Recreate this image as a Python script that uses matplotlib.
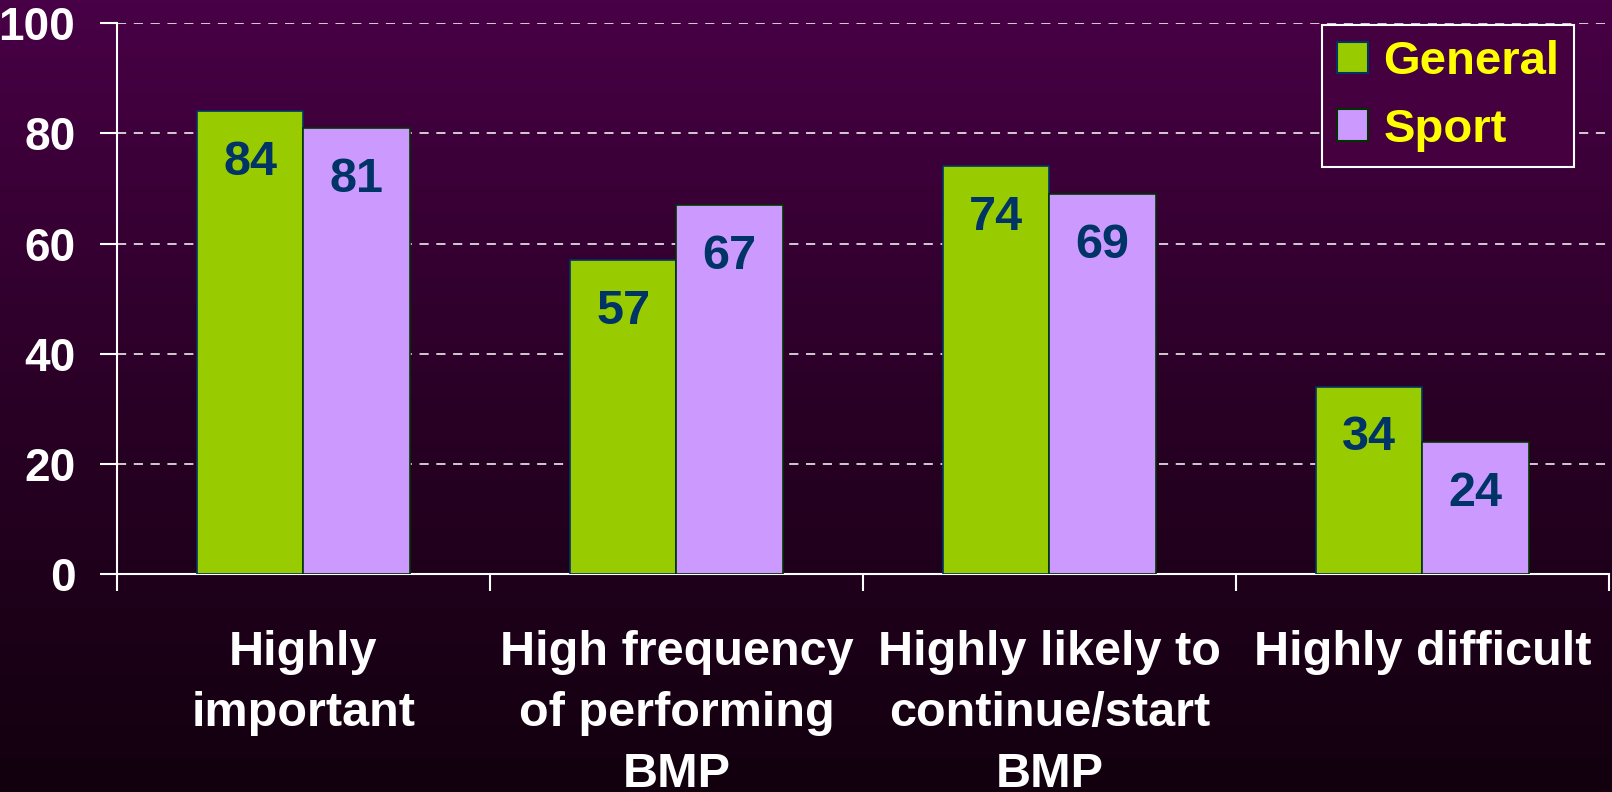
import matplotlib
matplotlib.use('Agg')
import matplotlib.pyplot as plt
import numpy as np
from matplotlib.patches import Patch
from matplotlib.colors import LinearSegmentedColormap

categories = ['Highly\nimportant', 'High frequency\nof performing\nBMP',
              'Highly likely to\ncontinue/start\nBMP', 'Highly difficult']
general = [84, 57, 74, 34]
sport = [81, 67, 69, 24]
series_names = ['General', 'Sport']
y_ticks = [0, 20, 40, 60, 80, 100]

plt.rcParams['font.family'] = ['Liberation Sans', 'DejaVu Sans']
plt.rcParams['font.weight'] = 'bold'

fig = plt.figure(figsize=(16.12, 7.92), dpi=100)

# gradient background over the whole figure
bg = fig.add_axes([0, 0, 1, 1], zorder=-10)
cmap = LinearSegmentedColormap.from_list('bg', ['#480046', '#2a0026', '#12000e'])
grad = np.linspace(0, 1, 256).reshape(-1, 1)
bg.imshow(grad, aspect='auto', cmap=cmap, extent=[0, 1, 0, 1])
bg.axis('off')

ax = fig.add_axes([0.0726, 0.2753, 0.9254, 0.6953])
ax.patch.set_alpha(0)

x = np.arange(len(categories))
w = 0.285
b1 = ax.bar(x - w / 2, general, w, color='#99cc00', edgecolor='#003366', linewidth=1.2, zorder=3)
b2 = ax.bar(x + w / 2, sport, w, color='#cc99ff', edgecolor='#003300', linewidth=1.2, zorder=3)

for bars, vals in [(b1, general), (b2, sport)]:
    for r, v in zip(bars, vals):
        ax.text(r.get_x() + r.get_width() / 2, v - 9.3, str(v), ha='center', va='center',
                fontsize=35, fontweight='bold', color='#003366', zorder=4)

ax.set_xlim(-0.5, len(categories) - 0.5)
ax.set_ylim(0, 100)
ax.set_yticks(y_ticks)
ax.set_yticklabels([str(t) for t in y_ticks])
ax.yaxis.grid(True, color='white', linestyle=(0, (6, 5)), linewidth=1.1, zorder=1)

ax.set_xticks(x)
ax.set_xticklabels(categories, fontsize=35, fontweight='bold', color='white', va='top', linespacing=1.47)
ax.set_xticks(np.arange(len(categories) + 1) - 0.5, minor=True)
ax.tick_params(axis='x', which='major', length=0, pad=40)
ax.tick_params(axis='x', which='minor', length=12, width=1.5, color='white', direction='out')
ax.tick_params(axis='y', length=12, width=1.5, color='white', labelsize=33, labelcolor='white', pad=18)

for s in ['top', 'right']:
    ax.spines[s].set_visible(False)
for s in ['left', 'bottom']:
    ax.spines[s].set_color('white')
    ax.spines[s].set_linewidth(1.5)

handles = [Patch(facecolor='#99cc00', edgecolor='#003366', linewidth=1.5),
           Patch(facecolor='#cc99ff', edgecolor='#003300', linewidth=1.5)]
leg = ax.legend(handles, series_names, loc='upper right', bbox_to_anchor=(0.977, 0.997),
                borderaxespad=0, fancybox=False, framealpha=1, facecolor='#44003f',
                edgecolor='white', prop={'size': 34, 'weight': 'bold'},
                handlelength=0.66, handleheight=0.66, handletextpad=0.32,
                labelspacing=0.5, borderpad=0.32)
leg.get_frame().set_linewidth(1.5)
for t in leg.get_texts():
    t.set_color('#ffff00')

fig.savefig('out.png', dpi=100)
